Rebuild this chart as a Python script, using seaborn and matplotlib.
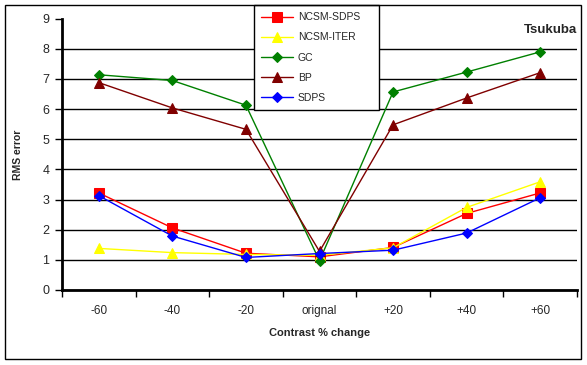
import matplotlib
matplotlib.use("Agg")
import matplotlib.pyplot as plt
import seaborn as sns
import numpy as np
import pandas as pd
from matplotlib.patches import Rectangle

categories = ["-60", "-40", "-20", "orignal", "+20", "+40", "+60"]
ncsm_sdps = [3.22, 2.06, 1.22, 1.10, 1.41, 2.54, 3.22]
ncsm_iter = [1.38, 1.24, 1.18, 1.15, 1.40, 2.74, 3.59]
gc = [7.14, 6.95, 6.13, 0.97, 6.57, 7.23, 7.90]
bp = [6.88, 6.04, 5.33, 1.28, 5.48, 6.37, 7.21]
sdps = [3.13, 1.79, 1.08, 1.21, 1.32, 1.89, 3.06]

series = [
    ("NCSM-SDPS", ncsm_sdps, "#FF0000", "s", 7),
    ("NCSM-ITER", ncsm_iter, "#FFFF00", "^", 7),
    ("GC", gc, "#008000", "D", 5),
    ("BP", bp, "#800000", "^", 7),
    ("SDPS", sdps, "#0000FF", "D", 5),
]

sns.set_theme(style="white")
plt.rcParams['font.family'] = ['Liberation Sans', 'DejaVu Sans']

fig = plt.figure(figsize=(5.87, 3.65), dpi=100)
ax = fig.add_axes([62/587, 1-290/365, (577-62)/587, (290-18.7)/365])

x = np.arange(len(categories))
for name, vals, col, mk, ms in series:
    df = pd.DataFrame({"x": x, "y": vals})
    sns.lineplot(data=df, x="x", y="y", ax=ax, color=col, marker=mk,
                 markersize=ms, markeredgecolor=col, linewidth=1, label=name)

ax.set_xlim(-0.5, 6.5)
ax.set_ylim(0, 9)
ax.set_yticks(range(0, 10))
ax.yaxis.grid(True, color="black", linewidth=1)
ax.set_axisbelow(True)
ax.set_xticks(np.arange(-0.5, 7, 1))
ax.set_xticklabels([])
ax.set_xticks(x, minor=True)
ax.set_xticklabels(categories, minor=True, fontsize=8.5)
ax.tick_params(axis="x", which="major", length=5, width=1, direction="out", color="black", bottom=True)
ax.tick_params(axis="x", which="minor", length=0, pad=11)
ax.tick_params(axis="y", which="major", length=5, width=1, direction="out", color="black", left=True, labelsize=9, pad=4)
for s in ["top", "right"]:
    ax.spines[s].set_visible(False)
for s in ["left", "bottom"]:
    ax.spines[s].set_color("black")
    ax.spines[s].set_linewidth(2)
ax.set_xlabel("Contrast % change", fontsize=8, fontweight="bold", labelpad=8)
ax.set_ylabel("RMS error", fontsize=7.5, fontweight="bold", labelpad=14)
fig.canvas.draw()
gl = ax.yaxis.get_gridlines()
gl[-1].set_visible(False)

ax.text(1.0, (290-30)/(290-18.7), "Tsukuba", transform=ax.transAxes, ha="right", va="center",
        fontsize=9.5, fontweight="bold")

leg = ax.legend(loc="upper left", bbox_to_anchor=(254/587, 1-110/365, 125/587, 105/365),
                bbox_transform=fig.transFigure, mode="expand", frameon=True, fancybox=False,
                fontsize=7.5, labelspacing=0.98, handlelength=3.0, handletextpad=0.5,
                borderaxespad=0, borderpad=0.7, framealpha=1)
leg.get_frame().set_edgecolor("black")
leg.get_frame().set_linewidth(1)

fig.patches.append(Rectangle((5/587, 1-359/365), 576/587, 354/365, transform=fig.transFigure,
                             fill=False, edgecolor="black", linewidth=1))

fig.savefig("out.png", dpi=100)
